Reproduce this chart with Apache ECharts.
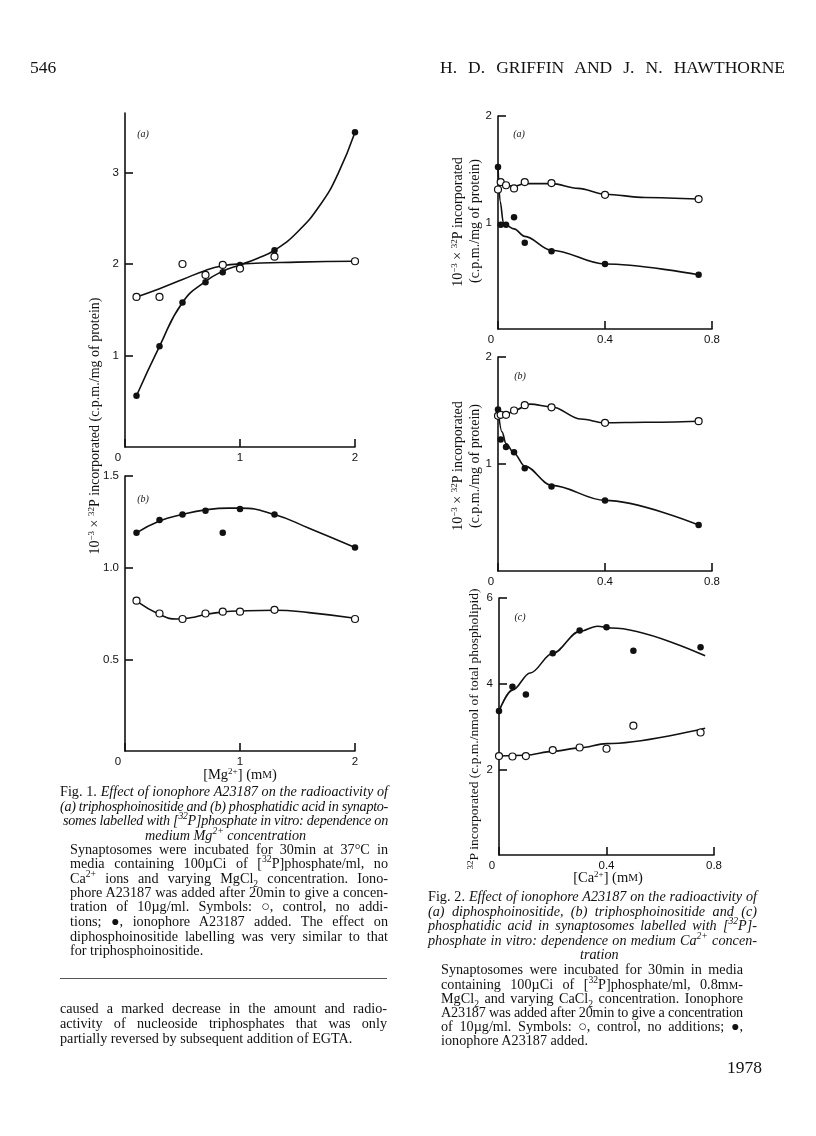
<!DOCTYPE html>
<html>
<head>
<meta charset="utf-8">
<title>Griffin &amp; Hawthorne, p. 546</title>
<script src="https://cdn.jsdelivr.net/npm/echarts@6/dist/echarts.min.js"></script>
<style>
  html, body { margin: 0; padding: 0; background: #fff; }
  #page { position: relative; width: 816px; height: 1136px; overflow: hidden; }
  #chart { position: absolute; left: 0; top: 0; width: 816px; height: 1136px; }
  .t { position: absolute; white-space: nowrap; font-family: 'Liberation Serif', 'DejaVu Serif', serif;
       font-size: 14.2px; line-height: 15px; color: #111; }
  .t sup, .t sub { font-size: 68%; line-height: 0; }
  .sc { font-size: 75%; }
  .hd { font-size: 17.5px; line-height: 17px; }
  .rule { position: absolute; left: 60px; top: 978px; width: 327px; height: 0; border-top: 1px solid #555; }
</style>
</head>
<body>
<div id="page">
  <div id="chart"></div>

  <div class="t hd" style="left:30px;top:59px">546</div>
  <div class="t hd j" data-w="345" style="left:440px;top:59px">H. D. GRIFFIN AND J. N. HAWTHORNE</div>

  <!-- Fig. 1 legend -->
  <div class="t j" data-w="328" style="left:60px;top:784px">Fig. 1. <i>Effect of ionophore A23187 on the radioactivity of</i></div>
  <div class="t j" data-w="328" style="left:60px;top:798.5px"><i>(a) triphosphoinositide and (b) phosphatidic acid in synapto-</i></div>
  <div class="t j" data-w="325" style="left:63px;top:813px"><i>somes labelled with [<sup>32</sup>P]phosphate in vitro: dependence on</i></div>
  <div class="t" style="left:145px;top:827.5px"><i>medium Mg<sup>2+</sup> concentration</i></div>
  <div class="t j" data-w="318" style="left:70px;top:842px">Synaptosomes were incubated for 30min at 37°C in</div>
  <div class="t j" data-w="318" style="left:70px;top:856px">media containing 100µCi of [<sup>32</sup>P]phosphate/ml, no</div>
  <div class="t j" data-w="318" style="left:70px;top:871px">Ca<sup>2+</sup> ions and varying MgCl<sub>2</sub> concentration. Iono-</div>
  <div class="t j" data-w="318" style="left:70px;top:885px">phore A23187 was added after 20min to give a concen-</div>
  <div class="t j" data-w="318" style="left:70px;top:899px">tration of 10µg/ml. Symbols: ○, control, no addi-</div>
  <div class="t j" data-w="318" style="left:70px;top:914px">tions; ●, ionophore A23187 added. The effect on</div>
  <div class="t j" data-w="318" style="left:70px;top:928.5px">diphosphoinositide labelling was very similar to that</div>
  <div class="t" style="left:70px;top:943px">for triphosphoinositide.</div>

  <div class="rule"></div>
  <div class="t j" data-w="327" style="left:60px;top:1001px">caused a marked decrease in the amount and radio-</div>
  <div class="t j" data-w="327" style="left:60px;top:1016px">activity of nucleoside triphosphates that was only</div>
  <div class="t" style="left:60px;top:1031px">partially reversed by subsequent addition of EGTA.</div>

  <!-- Fig. 2 legend -->
  <div class="t j" data-w="329" style="left:428px;top:889px">Fig. 2. <i>Effect of ionophore A23187 on the radioactivity of</i></div>
  <div class="t j" data-w="329" style="left:428px;top:903.5px"><i>(a) diphosphoinositide, (b) triphosphoinositide and (c)</i></div>
  <div class="t j" data-w="329" style="left:428px;top:918px"><i>phosphatidic acid in synaptosomes labelled with [<sup>32</sup>P]-</i></div>
  <div class="t j" data-w="329" style="left:428px;top:932.5px"><i>phosphate in vitro: dependence on medium Ca<sup>2+</sup> concen-</i></div>
  <div class="t" style="left:580px;top:947px"><i>tration</i></div>
  <div class="t j" data-w="302" style="left:441px;top:962px">Synaptosomes were incubated for 30min in media</div>
  <div class="t j" data-w="302" style="left:441px;top:976.5px">containing 100µCi of [<sup>32</sup>P]phosphate/ml, 0.8m<span class="sc">M</span>-</div>
  <div class="t j" data-w="302" style="left:441px;top:991px">MgCl<sub>2</sub> and varying CaCl<sub>2</sub> concentration. Ionophore</div>
  <div class="t j" data-w="302" style="left:441px;top:1005px">A23187 was added after 20min to give a concentration</div>
  <div class="t j" data-w="302" style="left:441px;top:1019px">of 10µg/ml. Symbols: ○, control, no additions; ●,</div>
  <div class="t" style="left:441px;top:1033px">ionophore A23187 added.</div>

  <div class="t hd" style="left:727px;top:1059px">1978</div>
</div>

<script>
// ---- Fig. 1: dependence on medium Mg2+ (mM) ----
var mgConc = [0.1, 0.3, 0.5, 0.7, 0.85, 1.0, 1.3, 2.0];
// (a) triphosphoinositide, 10^-3 c.p.m./mg protein
var tpiMgIono = [0.56, 1.10, 1.58, 1.80, 1.91, 1.99, 2.15, 3.44];
var tpiMgCtrl = [1.64, 1.64, 2.00, 1.88, 1.99, 1.95, 2.08, 2.03];
// (b) phosphatidic acid
var paMgIono = [1.19, 1.26, 1.29, 1.31, 1.19, 1.32, 1.29, 1.11];
var paMgCtrl = [0.82, 0.75, 0.72, 0.75, 0.76, 0.76, 0.77, 0.72];

// drawn (hand fitted) curves
var tpiMgIonoFitX = [0.1, 0.3, 0.5, 0.7, 0.85, 1.0, 1.15, 1.3, 1.5, 1.7, 1.85, 2.0];
var tpiMgIonoFitY = [0.56, 1.10, 1.58, 1.81, 1.92, 1.99, 2.06, 2.15, 2.35, 2.65, 2.98, 3.44];
var tpiMgCtrlFitX = [0.1, 0.3, 0.5, 0.7, 0.85, 1.0, 1.5, 2.0];
var tpiMgCtrlFitY = [1.64, 1.73, 1.83, 1.93, 1.98, 2.0, 2.02, 2.03];
var paMgIonoFitX = [0.1, 0.3, 0.5, 0.7, 0.9, 1.0, 1.3, 1.6, 2.0];
var paMgIonoFitY = [1.19, 1.255, 1.29, 1.315, 1.325, 1.325, 1.29, 1.215, 1.11];
var paMgCtrlFitX = [0.1, 0.3, 0.45, 0.6, 0.7, 0.85, 1.0, 1.3, 1.6, 2.0];
var paMgCtrlFitY = [0.817, 0.745, 0.72, 0.73, 0.745, 0.758, 0.764, 0.768, 0.755, 0.724];

// ---- Fig. 2: dependence on medium Ca2+ (mM) ----
var caConc = [0, 0.01, 0.03, 0.06, 0.1, 0.2, 0.4, 0.75];
// (a) diphosphoinositide
var dpiCaCtrl = [1.31, 1.38, 1.35, 1.32, 1.38, 1.37, 1.26, 1.22];
var dpiCaIono = [1.52, 0.98, 0.98, 1.05, 0.81, 0.73, 0.61, 0.51];
// (b) triphosphoinositide
var tpiCaCtrl = [1.45, 1.46, 1.46, 1.50, 1.55, 1.53, 1.385, 1.40];
var tpiCaIono = [1.51, 1.23, 1.16, 1.11, 0.96, 0.79, 0.66, 0.43];
// (c) phosphatidic acid, c.p.m./nmol of total phospholipid
var caConcC = [0, 0.05, 0.1, 0.2, 0.3, 0.4, 0.5, 0.75];
var paCaIono = [3.36, 3.93, 3.75, 4.71, 5.24, 5.32, 4.77, 4.85];
var paCaCtrl = [2.31, 2.30, 2.31, 2.45, 2.51, 2.48, 3.02, 2.86];

var dpiCaCtrlFitX = [0, 0.012, 0.03, 0.06, 0.1, 0.2, 0.3, 0.4, 0.55, 0.75];
var dpiCaCtrlFitY = [1.31, 1.37, 1.35, 1.34, 1.365, 1.365, 1.32, 1.265, 1.235, 1.22];
var dpiCaIonoFitX = [0, 0.008, 0.02, 0.03, 0.06, 0.1, 0.2, 0.4, 0.75];
var dpiCaIonoFitY = [1.52, 1.2, 1.0, 0.975, 0.94, 0.87, 0.74, 0.61, 0.51];
var tpiCaCtrlFitX = [0, 0.03, 0.06, 0.12, 0.2, 0.31, 0.4, 0.55, 0.75];
var tpiCaCtrlFitY = [1.45, 1.46, 1.50, 1.56, 1.535, 1.42, 1.385, 1.39, 1.40];
var tpiCaIonoFitX = [0, 0.015, 0.03, 0.06, 0.1, 0.2, 0.4, 0.75];
var tpiCaIonoFitY = [1.51, 1.30, 1.19, 1.10, 0.98, 0.80, 0.66, 0.43];
var paCaIonoFitX = [0, 0.05, 0.116, 0.2, 0.3, 0.366, 0.42, 0.767];
var paCaIonoFitY = [3.36, 3.85, 4.25, 4.71, 5.22, 5.34, 5.30, 4.65];
var paCaCtrlFitX = [0, 0.1, 0.2, 0.3, 0.4, 0.767];
var paCaCtrlFitY = [2.31, 2.33, 2.42, 2.50, 2.60, 2.96];

// tick values
var mgTicks = [0, 1, 2];
var caTicks = [0, 0.4, 0.8];
var fig1aYTicks = [1, 2, 3];
var fig1bYTicks = [0.5, 1.0, 1.5];
var fig2abYTicks = [1, 2];
var fig2cYTicks = [2, 4, 6];

var INK = '#111';
var SERIF = 'Liberation Serif';

function pairs(xs, ys) {
    return xs.map(function (x, i) { return [x, ys[i]]; });
}

function axis(gi, max, ticks, fmt, isX) {
    return {
        gridIndex: gi,
        type: 'value',
        min: 0,
        max: max,
        axisLine: { show: true, lineStyle: { color: INK, width: 1.6 } },
        axisTick: { show: true, inside: true, length: 8, customValues: ticks, lineStyle: { color: INK, width: 1.6 } },
        axisLabel: {
            customValues: ticks,
            formatter: fmt,
            color: INK,
            fontFamily: 'Liberation Sans',
            fontSize: 11.5,
            margin: isX ? 5 : 6,
            rich: { o: { fontFamily: 'Liberation Sans', fontSize: 11.5, color: INK, padding: [0, 14, 0, 0] } }
        },
        splitLine: { show: false }
    };
}

function xFmt(v) { return v === 0 ? '{o|0}' : String(v); }
function intFmt(v) { return String(v); }
function oneDec(v) { return v.toFixed(1); }

// steep Ca curves keep x monotone, the Mg curves use plain smoothing
function curve(gi, xs, ys, monotone) {
    var s = {
        type: 'line', xAxisIndex: gi, yAxisIndex: gi,
        data: pairs(xs, ys),
        smooth: monotone ? 0.35 : 0.5,
        symbol: 'none', showSymbol: false, silent: true, z: 2,
        lineStyle: { color: INK, width: 1.6 }
    };
    if (monotone) s.smoothMonotone = 'x';
    return s;
}

function dots(gi, xs, ys, open) {
    return {
        type: 'scatter', xAxisIndex: gi, yAxisIndex: gi,
        data: pairs(xs, ys),
        symbol: 'circle', symbolSize: open ? 7 : 6.5, silent: true, z: 3,
        itemStyle: open
            ? { color: '#fff', borderColor: INK, borderWidth: 1.2, opacity: 1 }
            : { color: INK, opacity: 1 }
    };
}

function label(x, y, text, size, rot, extra) {
    var st = {
        text: text, fill: INK, fontFamily: SERIF, fontSize: size,
        align: 'center', verticalAlign: 'middle',
        rich: {
            s: { fontFamily: SERIF, fontSize: Math.round(size * 0.65), fill: INK, verticalAlign: 'top', lineHeight: size + 2 },
            sc: { fontFamily: SERIF, fontSize: Math.round(size * 0.75), fill: INK }
        }
    };
    if (extra) Object.keys(extra).forEach(function (k) { st[k] = extra[k]; });
    return { type: 'text', x: x, y: y, rotation: rot || 0, style: st, silent: true };
}

var chart = echarts.init(document.getElementById('chart'), null, { renderer: 'canvas' });

chart.setOption({
    animation: false,
    backgroundColor: 'transparent',
    grid: [
        { left: 125, top: 113, width: 230, height: 334, outerBoundsMode: 'none' },
        { left: 125, top: 476, width: 230, height: 275, outerBoundsMode: 'none' },
        { left: 498, top: 116, width: 214, height: 213, outerBoundsMode: 'none' },
        { left: 498, top: 357, width: 214, height: 214, outerBoundsMode: 'none' },
        { left: 499, top: 598, width: 215, height: 257, outerBoundsMode: 'none' }
    ],
    xAxis: [
        axis(0, 2, mgTicks, xFmt, true),
        axis(1, 2, mgTicks, xFmt, true),
        axis(2, 0.8, caTicks, xFmt, true),
        axis(3, 0.8, caTicks, xFmt, true),
        axis(4, 0.8, caTicks, xFmt, true)
    ],
    yAxis: [
        axis(0, 3.65, fig1aYTicks, intFmt),
        axis(1, 1.5, fig1bYTicks, oneDec),
        axis(2, 2, fig2abYTicks, intFmt),
        axis(3, 2, fig2abYTicks, intFmt),
        axis(4, 6, fig2cYTicks, intFmt)
    ],
    series: [
        curve(0, tpiMgIonoFitX, tpiMgIonoFitY),
        curve(0, tpiMgCtrlFitX, tpiMgCtrlFitY),
        dots(0, mgConc, tpiMgIono, false),
        dots(0, mgConc, tpiMgCtrl, true),

        curve(1, paMgIonoFitX, paMgIonoFitY),
        curve(1, paMgCtrlFitX, paMgCtrlFitY),
        dots(1, mgConc, paMgIono, false),
        dots(1, mgConc, paMgCtrl, true),

        curve(2, dpiCaIonoFitX, dpiCaIonoFitY, true),
        curve(2, dpiCaCtrlFitX, dpiCaCtrlFitY, true),
        dots(2, caConc, dpiCaIono, false),
        dots(2, caConc, dpiCaCtrl, true),

        curve(3, tpiCaIonoFitX, tpiCaIonoFitY, true),
        curve(3, tpiCaCtrlFitX, tpiCaCtrlFitY, true),
        dots(3, caConc, tpiCaIono, false),
        dots(3, caConc, tpiCaCtrl, true),

        curve(4, paCaIonoFitX, paCaIonoFitY, true),
        curve(4, paCaCtrlFitX, paCaCtrlFitY, true),
        dots(4, caConcC, paCaIono, false),
        dots(4, caConcC, paCaCtrl, true)
    ],
    graphic: [
        // axis titles
        label(95, 426, '10{s|−3} × {s|32}P incorporated (c.p.m./mg of protein)', 14, Math.PI / 2),
        label(458, 222, '10{s|−3} × {s|32}P incorporated', 14, Math.PI / 2),
        label(475, 221, '(c.p.m./mg of protein)', 14, Math.PI / 2),
        label(458, 466, '10{s|−3} × {s|32}P incorporated', 14, Math.PI / 2),
        label(475, 466, '(c.p.m./mg of protein)', 14, Math.PI / 2),
        label(474, 729, '{s|32}P incorporated (c.p.m./nmol of total phospholipid)', 13.5, Math.PI / 2),
        label(240, 775, '[Mg{s|2+}] (m{sc|M})', 14.5, 0),
        label(608, 878, '[Ca{s|2+}] (m{sc|M})', 14.5, 0),
        // panel letters
        label(143, 134, '(a)', 10, 0, { fontStyle: 'italic' }),
        label(143, 499, '(b)', 10, 0, { fontStyle: 'italic' }),
        label(519, 134, '(a)', 10, 0, { fontStyle: 'italic' }),
        label(520, 376, '(b)', 10, 0, { fontStyle: 'italic' }),
        label(520, 617, '(c)', 10, 0, { fontStyle: 'italic' })
    ]
});

// justify the printed lines to their measured widths
function justify() {
    var lines = document.querySelectorAll('.j');
    for (var i = 0; i < lines.length; i++) {
        var el = lines[i];
        el.style.wordSpacing = '0px';
        el.style.letterSpacing = '0px';
        var target = parseFloat(el.getAttribute('data-w'));
        var gaps = (el.textContent.match(/ /g) || []).length;
        var natural = el.getBoundingClientRect().width;
        var extra = target - natural;
        if (extra < 0) {
            // too long: squeeze letters a little
            el.style.letterSpacing = (extra / el.textContent.length) + 'px';
            natural = el.getBoundingClientRect().width;
            extra = target - natural;
        }
        if (gaps) el.style.wordSpacing = (extra / gaps) + 'px';
    }
}
justify();
if (document.fonts && document.fonts.ready) document.fonts.ready.then(justify);
</script>
</body>
</html>
